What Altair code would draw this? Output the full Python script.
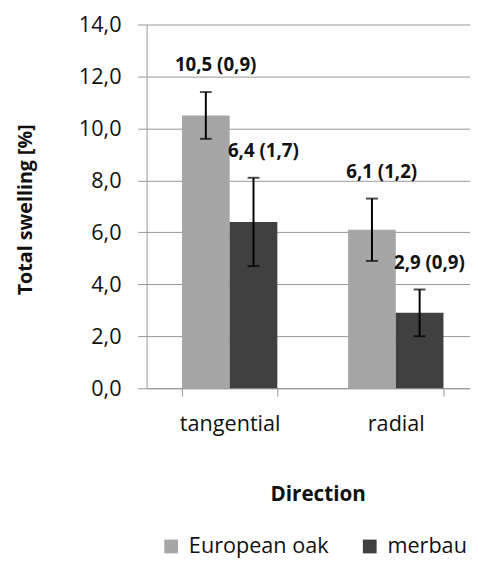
import altair as alt
import pandas as pd

directions = ["tangential", "tangential", "radial", "radial"]
species = ["European oak", "merbau", "European oak", "merbau"]
means = [10.5, 6.4, 6.1, 2.9]
sds = [0.9, 1.7, 1.2, 0.9]

dir_order = ["tangential", "radial"]
sp_order = ["European oak", "merbau"]
colors = ["#a6a6a6", "#404040"]
y_ticks = [0, 2, 4, 6, 8, 10, 12, 14]


def fmt(v):
    return f"{v:.1f}".replace(".", ",")


df = pd.DataFrame({
    "direction": directions,
    "species": species,
    "mean": means,
    "sd": sds,
})
df["lo"] = df["mean"] - df["sd"]
df["hi"] = df["mean"] + df["sd"]
df["label"] = [f"{fmt(m)} ({fmt(s)})" for m, s in zip(means, sds)]

FONT = "Open Sans"
GREY = "#969696"

base = alt.Chart(df).encode(
    x=alt.X(
        "direction:N",
        sort=dir_order,
        scale=alt.Scale(range=[0, 338], paddingInner=0.426, paddingOuter=0.213),
        axis=alt.Axis(
            title="Direction",
            titleFont=FONT,
            titleFontSize=21,
            titleFontWeight="bold",
            titleColor="#111111",
            titleX=174,
            titleY=108,
            titleBaseline="middle",
            labelAngle=0,
            labelFont=FONT,
            labelFontSize=22,
            labelColor="#111111",
            labelBaseline="middle",
            labelPadding=28,
            tickBand="extent",
            tickSize=8,
            tickColor=GREY,
            domainColor=GREY,
            grid=False,
        ),
    ),
    xOffset=alt.XOffset(
        "species:N",
        sort=sp_order,
        scale=alt.Scale(paddingInner=0, paddingOuter=0),
    ),
)

bars = base.mark_bar().encode(
    y=alt.Y(
        "mean:Q",
        scale=alt.Scale(domain=[0, 14], nice=False),
        axis=alt.Axis(
            values=y_ticks,
            labelExpr="replace(format(datum.value, '.1f'), '.', ',')",
            title="Total swelling [%]",
            titleFont=FONT,
            titleFontSize=20,
            titleFontWeight="bold",
            titleColor="#111111",
            titleX=-123,
            titleY=188,
            titleAlign="center",
            titleBaseline="middle",
            labelFont=FONT,
            labelFontSize=22,
            labelColor="#111111",
            labelPadding=17,
            tickSize=9,
            tickColor=GREY,
            domainColor=GREY,
            grid=True,
            gridColor=GREY,
        ),
    ),
    color=alt.Color(
        "species:N",
        sort=sp_order,
        scale=alt.Scale(domain=sp_order, range=colors),
        legend=alt.Legend(
            title=None,
            orient="none",
            direction="horizontal",
            legendX=14,
            legendY=520,
            symbolType="square",
            symbolSize=196,
            symbolStrokeWidth=0,
            symbolOpacity=1,
            labelFont=FONT,
            labelFontSize=22,
            labelColor="#111111",
            labelOffset=7,
            columnPadding=30,
            padding=0,
        ),
    ),
)

rules = base.mark_rule(color="black", strokeWidth=2).encode(
    y="lo:Q", y2="hi:Q"
)
caps_lo = base.mark_tick(color="black", thickness=2, size=12).encode(y="lo:Q")
caps_hi = base.mark_tick(color="black", thickness=2, size=12).encode(y="hi:Q")
labels = base.mark_text(
    dx=10, dy=-27, font=FONT, fontSize=19, fontWeight="bold", color="#111111"
).encode(y="hi:Q", text="label:N")

chart = (
    alt.layer(bars, rules, caps_lo, caps_hi, labels)
    .properties(
        width=329,
        height=370,
        autosize=alt.AutoSizeParams(type="none"),
        padding={"left": 141, "top": 12, "right": 0, "bottom": 172},
    )
    .configure_view(stroke=None)
)

chart.save("out.html", embed_options={"renderer": "svg", "actions": False})
